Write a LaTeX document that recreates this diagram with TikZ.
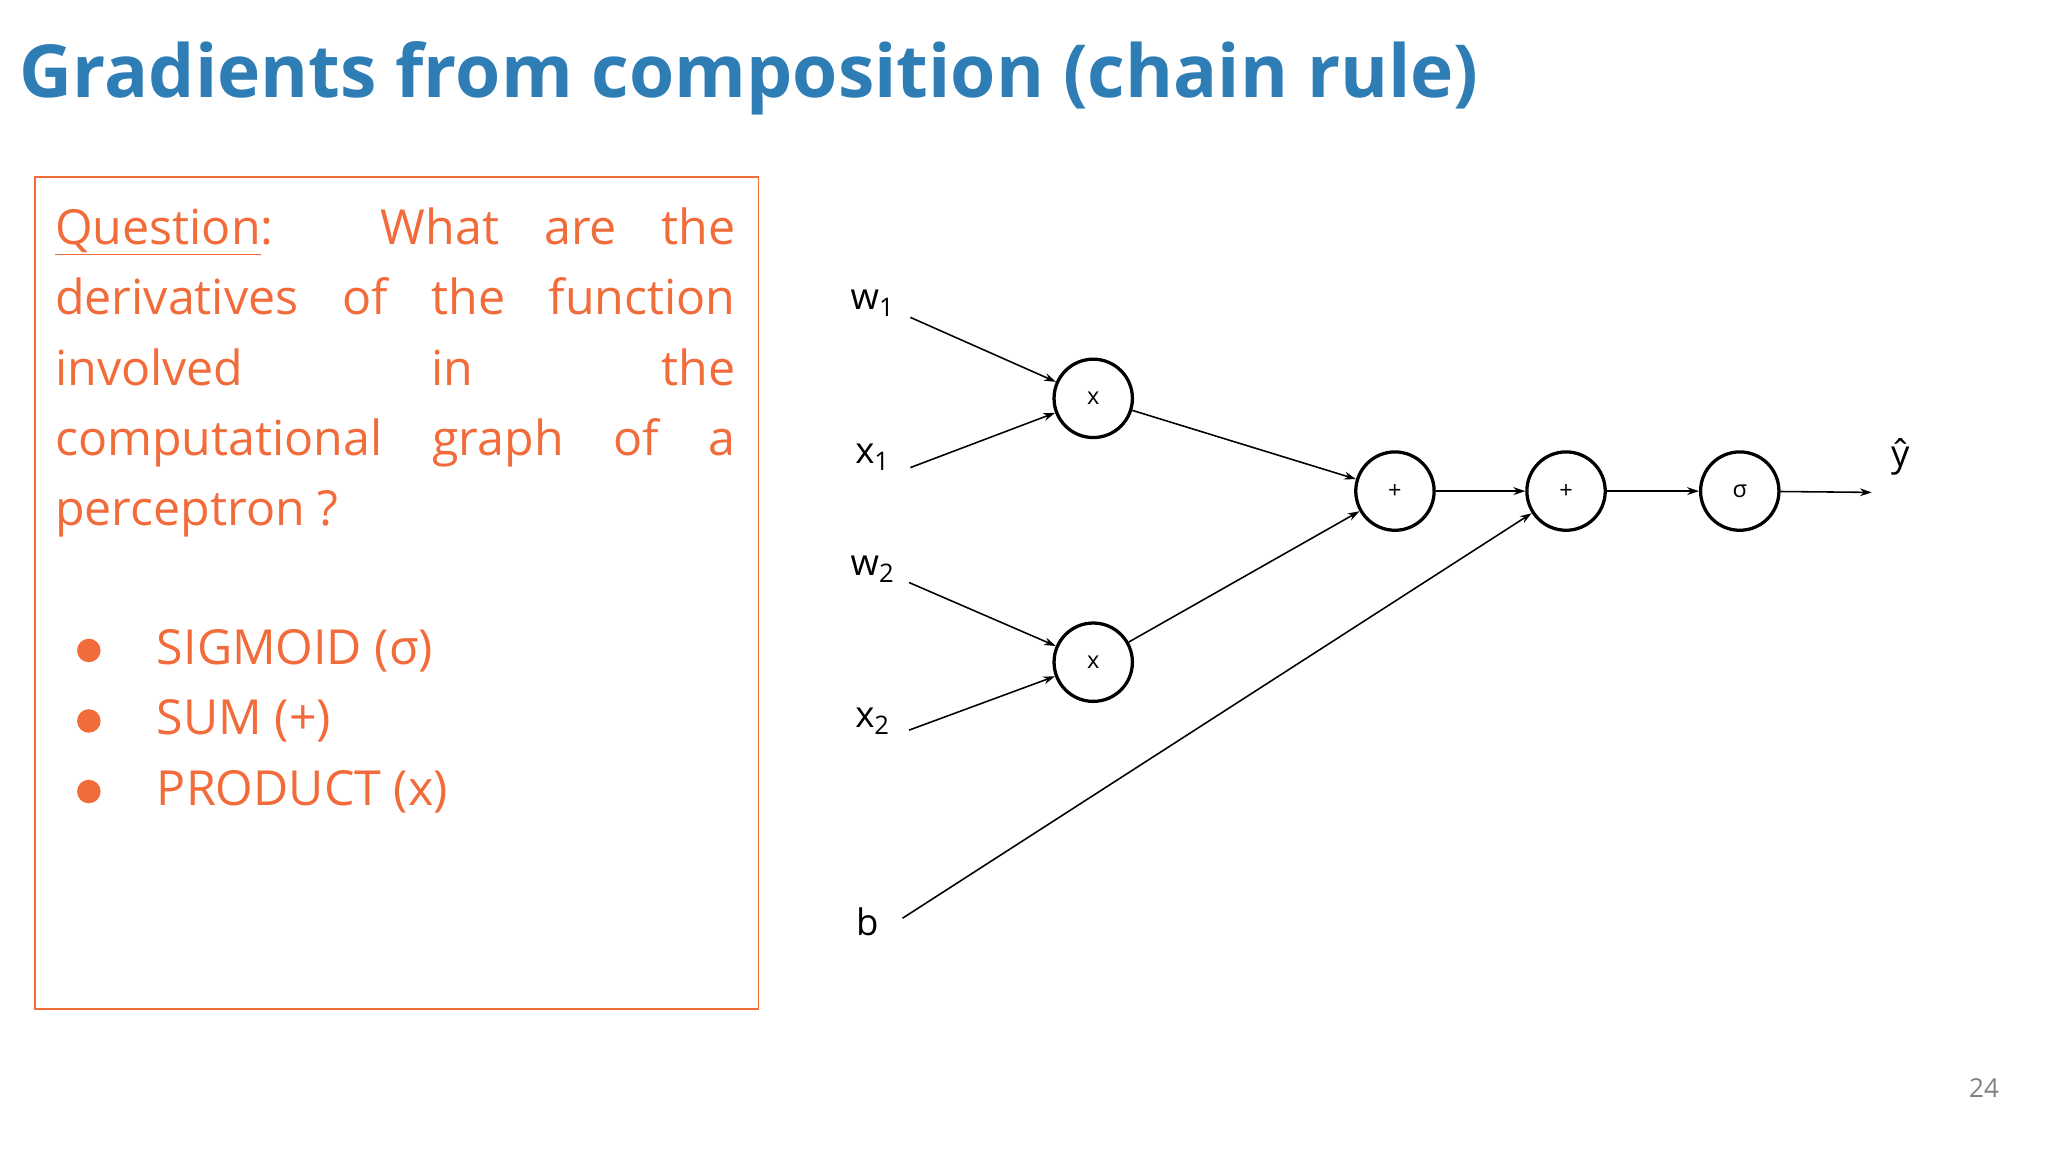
\documentclass[tikz,border=0pt]{standalone}
\usepackage{fontspec}
\setmainfont{Open Sans}
\usetikzlibrary{arrows.meta}
\definecolor{ttl}{HTML}{2E7DB5}
\definecolor{org}{HTML}{F26B3A}
\begin{document}
\begin{tikzpicture}[x=1pt,y=-1pt,
  op/.style={circle,draw,line width=2.5pt,minimum size=60pt,inner sep=0pt,font=\fontsize{18}{20}\selectfont},
  lbl/.style={font=\fontsize{28}{30}\selectfont,inner sep=0pt},
  qline/.style={anchor=base west,inner sep=0pt,text=org,font=\fontsize{37}{40}\selectfont},
  edge/.style={line width=1.2pt,-{Stealth[length=9pt,width=6pt]}}]
\useasboundingbox (0,0) rectangle (1568,882);
\node[anchor=base west,inner sep=0pt,text=ttl,font=\fontsize{56}{60}\selectfont\bfseries] (title) at (15,75) {Gradients from composition (chain rule)};
\node[draw=org,line width=1.2pt,minimum width=554pt,minimum height=637pt,anchor=north west,inner sep=0pt] (box) at (26,135) {};
\node[qline] (q1) at (42,187) {\makebox[521pt][s]{\underline{Question}:\hspace{20pt} What are the}};
\node[qline] (q2) at (42,241) {\makebox[521pt][s]{derivatives of the function}};
\node[qline] (q3) at (42,295) {\makebox[521pt][s]{involved in the}};
\node[qline] (q4) at (42,349) {\makebox[521pt][s]{computational graph of a}};
\node[qline] (q5) at (42,402) {perceptron ?};
\foreach \t/\y [count=\i] in {SIGMOID (σ)/498,SUM (+)/552,PRODUCT (x)/606}{
  \fill[org] (68,\y) circle (9pt);
  \node[anchor=west,inner sep=0pt,text=org,font=\fontsize{37}{40}\selectfont] (b\i) at (120,\y) {\t};
}
\node[op] (m1) at (837,305) {x};
\node[op] (m2) at (837,507) {x};
\node[op] (p1) at (1068,376) {+};
\node[op] (p2) at (1199,376) {+};
\node[op] (s) at (1332,376) {σ};
\node[lbl] (w1) at (668,232) {w\textsubscript{1}};
\node[lbl] (x1) at (668,350) {x\textsubscript{1}};
\node[lbl] (w2) at (668,436) {w\textsubscript{2}};
\node[lbl] (x2) at (668,552) {x\textsubscript{2}};
\node[lbl] (bb) at (664,706) {b};
\node[lbl] (y) at (1455,350) {ŷ};
\coordinate (cw1) at (697,243); \coordinate (cx1) at (697,358);
\coordinate (cw2) at (696,446); \coordinate (cx2) at (696,559);
\coordinate (cb) at (691,703); \coordinate (out) at (1433,377);
\draw[edge] (cw1) -- (m1); \draw[edge] (cx1) -- (m1);
\draw[edge] (cw2) -- (m2); \draw[edge] (cx2) -- (m2);
\draw[edge] (m1) -- (p1); \draw[edge] (m2) -- (p1);
\draw[edge] (cb) -- (p2);
\draw[edge] (p1) -- (p2); \draw[edge] (p2) -- (s); \draw[edge] (s) -- (out);
\node[text=gray,font=\fontsize{20}{22}\selectfont,inner sep=0pt] (pg) at (1519,833) {24};
\end{tikzpicture}
\end{document}
